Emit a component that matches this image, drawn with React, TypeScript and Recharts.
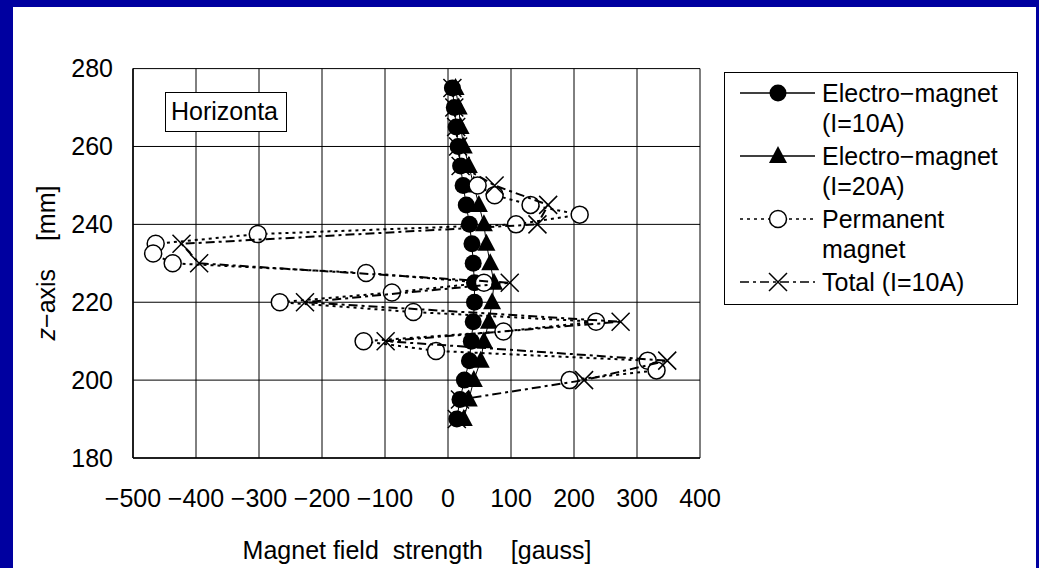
import { ScatterChart, Scatter, XAxis, YAxis, CartesianGrid, Legend } from 'recharts';

// z positions [mm] and field values [gauss]
const emZ = [275, 270, 265, 260, 255, 250, 245, 240, 235, 230, 225, 220, 215, 210, 205, 200, 195, 190];
const em10 = [7, 10, 13, 16, 20, 24, 29, 34, 38, 40, 42, 42, 40, 37, 34, 26, 19, 14];
const em20 = [12, 17, 20, 25, 33, 41, 49, 57, 61, 67, 73, 70, 65, 57, 52, 41, 33, 25];

const pmZ = [250, 247.5, 245, 242.5, 240, 237.5, 235, 232.5, 230, 227.5, 225, 222.5, 220, 217.5, 215, 212.5, 210, 207.5, 205, 202.5, 200];
const pmField = [47, 74, 131, 209, 108, -302, -464, -468, -437, -130, 57, -89, -267, -55, 235, 88, -134, -19, 317, 331, 193];

const totalZ = emZ;
const totalField = [7, 10, 13, 16, 20, 74, 159, 142, -423, -395, 98, -227, 274, -99, 348, 216, 19, 14];

const xTicks = [-500, -400, -300, -200, -100, 0, 100, 200, 300, 400];
const zTicks = [180, 200, 220, 240, 260, 280];

const FONT = "'Liberation Sans', Arial, sans-serif";
const FS = 25;

const toPoints = (zs: number[], xs: number[]) => zs.map((z, i) => ({ x: xs[i], z }));

const fmt = (v: number) => (v < 0 ? '\u2212' + Math.abs(v) : String(v));

const FilledCircle = (p: any) => <circle cx={p.cx} cy={p.cy} r={8.5} fill="#000" />;
const FilledTriangle = (p: any) => (
  <polygon points={`${p.cx},${p.cy - 10} ${p.cx + 9},${p.cy + 7} ${p.cx - 9},${p.cy + 7}`} fill="#000" />
);
const OpenCircle = (p: any) => <circle cx={p.cx} cy={p.cy} r={8.5} fill="#fff" stroke="#000" strokeWidth={1.5} />;
const XMark = (p: any) => (
  <path
    d={`M${p.cx - 9},${p.cy - 9}L${p.cx + 9},${p.cy + 9}M${p.cx - 9},${p.cy + 9}L${p.cx + 9},${p.cy - 9}`}
    stroke="#000"
    strokeWidth={1.5}
    fill="none"
  />
);

const legendItems = [
  { lines: ['Electro\u2212magnet', '(I=10A)'], dash: undefined, marker: 'circle' },
  { lines: ['Electro\u2212magnet', '(I=20A)'], dash: undefined, marker: 'triangle' },
  { lines: ['Permanent', 'magnet'], dash: '3 4', marker: 'open' },
  { lines: ['Total (I=10A)'], dash: '9 4 3 4', marker: 'x' },
];

function LegendMarker({ kind }: { kind: string }) {
  const p = { cx: 53, cy: 15 };
  if (kind === 'circle') return FilledCircle(p);
  if (kind === 'triangle') return FilledTriangle(p);
  if (kind === 'open') return OpenCircle(p);
  return XMark(p);
}

function renderLegend() {
  return (
    <div
      style={{
        width: 294,
        height: 233,
        border: '1.5px solid #000',
        background: '#fff',
        boxSizing: 'border-box',
        paddingTop: 5,
        fontFamily: FONT,
        fontSize: FS,
        color: '#000',
      }}
    >
      {legendItems.map((item, i) => (
        <div key={i} style={{ display: 'flex', alignItems: 'flex-start', marginBottom: 3 }}>
          <svg width={97} height={30} style={{ flex: 'none' }}>
            <line x1={15} y1={15} x2={90} y2={15} stroke="#000" strokeWidth={1.5} strokeDasharray={item.dash} />
            <LegendMarker kind={item.marker} />
          </svg>
          <div style={{ lineHeight: '30px', whiteSpace: 'nowrap' }}>
            {item.lines.map((l, j) => (
              <div key={j}>{l}</div>
            ))}
          </div>
        </div>
      ))}
    </div>
  );
}

export default function App() {
  return (
    <div style={{ position: 'absolute', left: 0, top: 0, width: 1039, height: 568, background: '#0000A0', fontFamily: FONT }}>
      <div style={{ position: 'absolute', left: 13, top: 7, width: 1023, height: 561, background: '#fff' }} />
      <div style={{ position: 'absolute', left: 0, top: 0 }}>
        <ScatterChart width={1039} height={568} margin={{ top: 68.6, right: 339, bottom: 80, left: 73 }}>
          <CartesianGrid stroke="#000" strokeWidth={1} />
          <XAxis
            type="number"
            dataKey="x"
            domain={[-500, 400]}
            ticks={xTicks}
            interval={0}
            tickFormatter={fmt}
            tickLine={false}
            tickSize={0}
            tickMargin={31}
            axisLine={{ stroke: '#000', strokeWidth: 1.5 }}
            tick={{ fill: '#000', fontSize: FS, fontFamily: FONT }}
            height={30}
          />
          <YAxis
            type="number"
            dataKey="z"
            domain={[180, 280]}
            ticks={zTicks}
            interval={0}
            tickLine={false}
            tickSize={0}
            tickMargin={20}
            axisLine={{ stroke: '#000', strokeWidth: 1.5 }}
            tick={{ fill: '#000', fontSize: FS, fontFamily: FONT }}
            width={60}
          />
          <Legend
            layout="horizontal"
            verticalAlign="middle"
            align="center"
            content={renderLegend}
            wrapperStyle={{ position: 'absolute', left: 724, top: 72, width: 294, height: 233 }}
          />
          <Scatter
            name="Electro-magnet (I=10A)"
            data={toPoints(emZ, em10)}
            line={{ stroke: '#000', strokeWidth: 1 }}
            lineType="joint"
            shape={FilledCircle}
            isAnimationActive={false}
          />
          <Scatter
            name="Electro-magnet (I=20A)"
            data={toPoints(emZ, em20)}
            line={{ stroke: '#000', strokeWidth: 1 }}
            lineType="joint"
            shape={FilledTriangle}
            isAnimationActive={false}
          />
          <Scatter
            name="Permanent magnet"
            data={toPoints(pmZ, pmField)}
            line={{ stroke: '#000', strokeWidth: 2, strokeDasharray: '3 4' }}
            lineType="joint"
            shape={OpenCircle}
            isAnimationActive={false}
          />
          <Scatter
            name="Total (I=10A)"
            data={toPoints(totalZ, totalField)}
            line={{ stroke: '#000', strokeWidth: 2, strokeDasharray: '9 4 3 4' }}
            lineType="joint"
            shape={XMark}
            isAnimationActive={false}
          />
        </ScatterChart>
      </div>
      <div
        style={{
          position: 'absolute',
          left: 165,
          top: 92,
          width: 122,
          height: 40,
          boxSizing: 'border-box',
          border: '1.5px solid #000',
          background: '#fff',
          fontSize: FS,
          lineHeight: '37px',
          paddingLeft: 5,
          overflow: 'hidden',
          whiteSpace: 'nowrap',
          color: '#000',
        }}
      >
        Horizonta
      </div>
      <div
        style={{
          position: 'absolute',
          left: 46,
          top: 263,
          transform: 'translate(-50%, -50%) rotate(-90deg)',
          fontSize: FS,
          whiteSpace: 'pre',
          color: '#000',
        }}
      >
        <i>z</i>{'\u2212axis    [mm]'}
      </div>
      <div
        style={{
          position: 'absolute',
          left: 417,
          top: 550,
          transform: 'translate(-50%, -50%)',
          fontSize: FS,
          whiteSpace: 'pre',
          color: '#000',
        }}
      >
        {'Magnet field  strength    [gauss]'}
      </div>
    </div>
  );
}
